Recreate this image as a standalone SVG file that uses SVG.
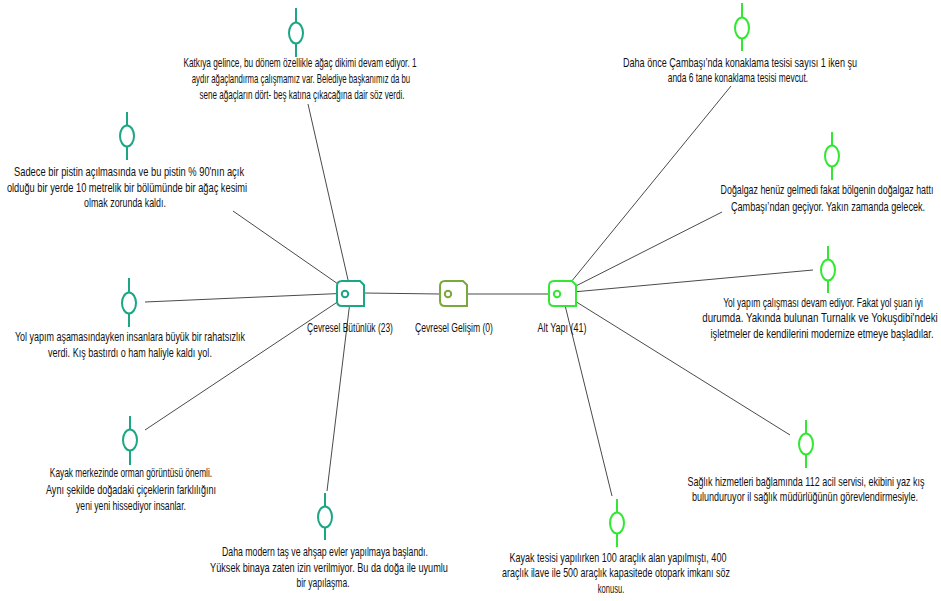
<svg xmlns="http://www.w3.org/2000/svg" width="941" height="601" viewBox="0 0 941 601">
<defs>
<style>
.t{font-family:"Liberation Sans","Arial",sans-serif;font-size:12px;fill:#111;text-anchor:middle}
.c{stroke:#4a4a4a;stroke-width:1;fill:none}
.pa{stroke:#1ba784;stroke-width:2;fill:#fff}
.pc{stroke:#33e833;stroke-width:2;fill:#fff}
.na{stroke:#1ba784;stroke-width:2;fill:#fff}
.nb{stroke:#7aa83a;stroke-width:2;fill:#fff}
.nc{stroke:#33e833;stroke-width:2;fill:#fff}
</style>
<path id="nodeShape" d="M5,0 H23 L27,4 V25 H5 Q0,25 0,20 V5 Q0,0 5,0 Z"/>
</defs>
<rect width="941" height="601" fill="#fff"/>
<g id="connectors">
<line class="c" x1="351" y1="293" x2="308" y2="104"/>
<line class="c" x1="351" y1="293" x2="233" y2="211"/>
<line class="c" x1="351" y1="293" x2="145" y2="302"/>
<line class="c" x1="351" y1="293" x2="145" y2="430"/>
<line class="c" x1="351" y1="293" x2="327" y2="491"/>
<line class="c" x1="364" y1="293" x2="440" y2="294"/>
<line class="c" x1="468" y1="294" x2="549" y2="294"/>
<line class="c" x1="562" y1="293" x2="731" y2="86"/>
<line class="c" x1="562" y1="293" x2="722" y2="212"/>
<line class="c" x1="562" y1="293" x2="813" y2="270"/>
<line class="c" x1="562" y1="293" x2="790" y2="435"/>
<line class="c" x1="562" y1="293" x2="612" y2="496"/>
</g>
<g id="node-cevresel-butunluk">
<use href="#nodeShape" class="na" x="337" y="281"/>
<circle class="na" cx="345" cy="294" r="3.2" stroke-width="1.8"/>
<text class="t" x="350" y="332" textLength="110" lengthAdjust="spacingAndGlyphs" transform="matrix(.78,0,0,1,77,0)">Çevresel Bütünlük (23)</text>
</g>
<g id="node-cevresel-gelisim">
<use href="#nodeShape" class="nb" x="440" y="281"/>
<circle class="nb" cx="448" cy="294" r="3.2" stroke-width="1.8"/>
<text class="t" x="454" y="332" textLength="100" lengthAdjust="spacingAndGlyphs" transform="matrix(.78,0,0,1,99.88,0)">Çevresel Gelişim (0)</text>
</g>
<g id="node-alt-yapi">
<use href="#nodeShape" class="nc" x="549" y="281"/>
<circle class="nc" cx="557" cy="294" r="3.2" stroke-width="1.8"/>
<text class="t" x="562" y="332" textLength="63" lengthAdjust="spacingAndGlyphs" transform="matrix(.78,0,0,1,123.64,0)">Alt Yapı (41)</text>
</g>
<g id="note-katkiya">
<line class="pa" x1="296" y1="8" x2="296" y2="57"/>
<ellipse class="pa" cx="296" cy="33" rx="7" ry="10.5"/>
<text class="t" x="300" y="67" textLength="299" lengthAdjust="spacingAndGlyphs" transform="matrix(.78,0,0,1,66,0)">Katkıya gelince, bu dönem özellikle ağaç dikimi devam ediyor. 1</text>
<text class="t" x="301" y="83" textLength="280" lengthAdjust="spacingAndGlyphs" transform="matrix(.78,0,0,1,66.22,0)">aydır ağaçlandırma çalışmamız var. Belediye başkanımız da bu</text>
<text class="t" x="302" y="99" textLength="263" lengthAdjust="spacingAndGlyphs" transform="matrix(.78,0,0,1,66.44,0)">sene ağaçların dört- beş katına çıkacağına dair söz verdi.</text>
</g>
<g id="note-sadece">
<line class="pa" x1="127" y1="112" x2="127" y2="160"/>
<ellipse class="pa" cx="127" cy="136" rx="7" ry="10.5"/>
<text class="t" x="129" y="176" textLength="295" lengthAdjust="spacingAndGlyphs" transform="matrix(.78,0,0,1,28.38,0)">Sadece bir pistin açılmasında ve bu pistin % 90'nın açık</text>
<text class="t" x="127" y="192" textLength="308" lengthAdjust="spacingAndGlyphs" transform="matrix(.78,0,0,1,27.94,0)">olduğu bir yerde 10 metrelik bir bölümünde bir ağaç kesimi</text>
<text class="t" x="125" y="207" textLength="105" lengthAdjust="spacingAndGlyphs" transform="matrix(.78,0,0,1,27.5,0)">olmak zorunda kaldı.</text>
</g>
<g id="note-yol-asamasi">
<line class="pa" x1="129" y1="278" x2="129" y2="327"/>
<ellipse class="pa" cx="129" cy="303" rx="7" ry="10.5"/>
<text class="t" x="130" y="341" textLength="295" lengthAdjust="spacingAndGlyphs" transform="matrix(.78,0,0,1,28.6,0)">Yol yapım aşamasındayken insanlara büyük bir rahatsızlık</text>
<text class="t" x="130" y="357" textLength="210" lengthAdjust="spacingAndGlyphs" transform="matrix(.78,0,0,1,28.6,0)">verdi. Kış bastırdı o ham haliyle kaldı yol.</text>
</g>
<g id="note-kayak-merkezi">
<line class="pa" x1="130" y1="416" x2="130" y2="465"/>
<ellipse class="pa" cx="130" cy="440" rx="7" ry="10.5"/>
<text class="t" x="131" y="477" textLength="208" lengthAdjust="spacingAndGlyphs" transform="matrix(.78,0,0,1,28.82,0)">Kayak merkezinde orman görüntüsü önemli.</text>
<text class="t" x="131" y="494" textLength="218" lengthAdjust="spacingAndGlyphs" transform="matrix(.78,0,0,1,28.82,0)">Aynı şekilde doğadaki çiçeklerin farklılığını</text>
<text class="t" x="131" y="510" textLength="141" lengthAdjust="spacingAndGlyphs" transform="matrix(.78,0,0,1,28.82,0)">yeni yeni hissediyor insanlar.</text>
</g>
<g id="note-daha-modern">
<line class="pa" x1="325" y1="493" x2="325" y2="540"/>
<ellipse class="pa" cx="325" cy="517" rx="7" ry="10.5"/>
<text class="t" x="325" y="556" textLength="264" lengthAdjust="spacingAndGlyphs" transform="matrix(.78,0,0,1,71.5,0)">Daha modern taş ve ahşap evler yapılmaya başlandı.</text>
<text class="t" x="329" y="572" textLength="305" lengthAdjust="spacingAndGlyphs" transform="matrix(.78,0,0,1,72.38,0)">Yüksek binaya zaten izin verilmiyor. Bu da doğa ile uyumlu</text>
<text class="t" x="323" y="587" textLength="68" lengthAdjust="spacingAndGlyphs" transform="matrix(.78,0,0,1,71.06,0)">bir yapılaşma.</text>
</g>
<g id="note-kayak-tesisi">
<line class="pc" x1="617" y1="499" x2="617" y2="547"/>
<ellipse class="pc" cx="617" cy="523" rx="7" ry="10.5"/>
<text class="t" x="618" y="562" textLength="278" lengthAdjust="spacingAndGlyphs" transform="matrix(.78,0,0,1,135.96,0)">Kayak tesisi yapılırken 100 araçlık alan yapılmıştı, 400</text>
<text class="t" x="616" y="577" textLength="292" lengthAdjust="spacingAndGlyphs" transform="matrix(.78,0,0,1,135.52,0)">araçlık ilave ile 500 araçlık kapasitede otopark imkanı söz</text>
<text class="t" x="611" y="593" textLength="34" lengthAdjust="spacingAndGlyphs" transform="matrix(.78,0,0,1,134.42,0)">konusu.</text>
</g>
<g id="note-daha-once">
<line class="pc" x1="742" y1="3" x2="742" y2="51"/>
<ellipse class="pc" cx="742" cy="28" rx="7" ry="10.5"/>
<text class="t" x="740" y="67" textLength="300" lengthAdjust="spacingAndGlyphs" transform="matrix(.78,0,0,1,162.8,0)">Daha önce Çambaşı’nda konaklama tesisi  sayısı 1 iken şu</text>
<text class="t" x="738" y="82" textLength="180" lengthAdjust="spacingAndGlyphs" transform="matrix(.78,0,0,1,162.36,0)">anda 6 tane konaklama tesisi mevcut.</text>
</g>
<g id="note-dogalgaz">
<line class="pc" x1="832" y1="132" x2="832" y2="180"/>
<ellipse class="pc" cx="832" cy="156" rx="7" ry="10.5"/>
<text class="t" x="827" y="194" textLength="304" lengthAdjust="spacingAndGlyphs" transform="matrix(.7,0,0,1,248.1,0)">Doğalgaz henüz gelmedi fakat bölgenin doğalgaz hattı</text>
<text class="t" x="828" y="211" textLength="249" lengthAdjust="spacingAndGlyphs" transform="matrix(.78,0,0,1,182.16,0)">Çambaşı’ndan geçiyor. Yakın zamanda gelecek.</text>
</g>
<g id="note-yol-calismasi">
<line class="pc" x1="828" y1="246" x2="828" y2="293"/>
<ellipse class="pc" cx="828" cy="270" rx="7" ry="10.5"/>
<text class="t" x="823" y="307" textLength="256" lengthAdjust="spacingAndGlyphs" transform="matrix(.78,0,0,1,181.06,0)">Yol yapım çalışması devam ediyor. Fakat yol şuan iyi</text>
<text class="t" x="820" y="322" textLength="302" lengthAdjust="spacingAndGlyphs" transform="matrix(.78,0,0,1,180.4,0)">durumda. Yakında bulunan Turnalık ve Yokuşdibi'ndeki</text>
<text class="t" x="822" y="338" textLength="286" lengthAdjust="spacingAndGlyphs" transform="matrix(.78,0,0,1,180.84,0)">işletmeler de kendilerini modernize etmeye başladılar.</text>
</g>
<g id="note-saglik">
<line class="pc" x1="806" y1="420" x2="806" y2="468"/>
<ellipse class="pc" cx="806" cy="444" rx="7" ry="10.5"/>
<text class="t" x="806" y="486" textLength="304" lengthAdjust="spacingAndGlyphs" transform="matrix(.78,0,0,1,177.32,0)">Sağlık hizmetleri bağlamında 112 acil servisi, ekibini yaz kış</text>
<text class="t" x="805" y="501" textLength="290" lengthAdjust="spacingAndGlyphs" transform="matrix(.78,0,0,1,177.1,0)">bulunduruyor il sağlık müdürlüğünün görevlendirmesiyle.</text>
</g>
</svg>
